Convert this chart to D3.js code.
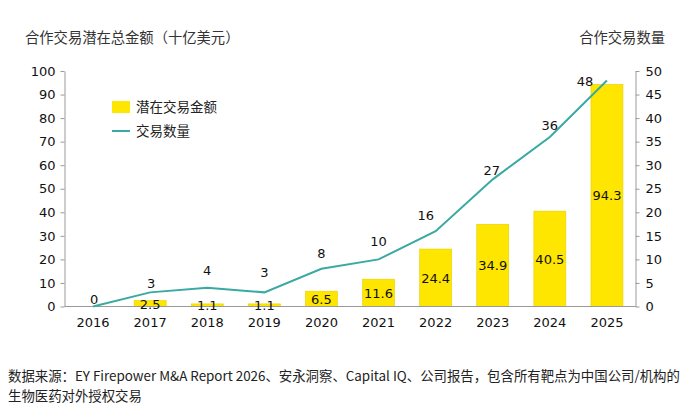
<!DOCTYPE html>
<html><head><meta charset="utf-8">
<script src="https://cdn.jsdelivr.net/npm/d3@7"></script>
<style>
html,body{margin:0;padding:0;background:#fff;}
svg{display:block;}
</style></head>
<body>
<svg id="chart" width="699" height="420"></svg>
<script>
const years = ["2016","2017","2018","2019","2020","2021","2022","2023","2024","2025"];
const dealValue = [0, 2.5, 1.1, 1.1, 6.5, 11.6, 24.4, 34.9, 40.5, 94.3];
const dealCount = [0, 3, 4, 3, 8, 10, 16, 27, 36, 48];
const leftTicks = [0,10,20,30,40,50,60,70,80,90,100];
const rightTicks = [0,5,10,15,20,25,30,35,40,45,50];
const leftTitle = "合作交易潜在总金额（十亿美元）";
const rightTitle = "合作交易数量";
const legendLabels = ["潜在交易金额", "交易数量"];
const footnote = ["数据来源：EY Firepower M&A Report 2026、安永洞察、Capital IQ、公司报告，包含所有靶点为中国公司/机构的", "生物医药对外授权交易"];

// label nudges (layout, px)
const countLabelLift = [8, 9, 18, 20, 16, 18, 16, 9, 12, -1];
const countLabelShift = [1, 1, 0, 0, 0, 0, -10, -1, 0, -22];

(function(){
const plotL = 64.5, plotR = 635.5, plotT = 71, plotB = 306.5;
const svg = d3.select("#chart");
const numFont = "'DejaVu Sans', Verdana, sans-serif";
const cjkFont = "'Noto Sans CJK SC', 'Noto Sans', sans-serif";

const x = d3.scaleBand().domain(years).range([plotL, plotR]).paddingInner(0.44).paddingOuter(0.22);
const yL = d3.scaleLinear().domain([0,100]).range([plotB, plotT]);
const yR = d3.scaleLinear().domain([0,50]).range([plotB, plotT]);
const yellow = "#FFE600", teal = "#3AA9A2", axisCol = "#9a9a9a";

// bars
svg.append("g").selectAll("rect").data(dealValue).join("rect")
  .attr("x", (d,i) => x(years[i]))
  .attr("width", x.bandwidth())
  .attr("y", d => yL(d))
  .attr("height", d => yL(0) - yL(d))
  .attr("fill", yellow)
  .attr("stroke", d => d > 0 ? "#e6cf00" : "none")
  .attr("stroke-width", 0.6);

// axes
const gL = svg.append("g").attr("transform", `translate(${plotL},0)`)
  .call(d3.axisLeft(yL).tickValues(leftTicks).tickSize(4).tickSizeOuter(0).tickPadding(5));
const gR = svg.append("g").attr("transform", `translate(${plotR},0)`)
  .call(d3.axisRight(yR).tickValues(rightTicks).tickSize(4).tickSizeOuter(0).tickPadding(6));
[gL, gR].forEach(g => {
  g.select(".domain").attr("stroke", axisCol);
  g.selectAll(".tick line").attr("stroke", axisCol);
  g.selectAll(".tick text").attr("font-family", numFont).attr("font-size", 13).attr("fill", "#111");
});
// baseline
svg.append("line").attr("x1", plotL).attr("x2", plotR).attr("y1", yL(0)).attr("y2", yL(0))
  .attr("stroke", axisCol).attr("stroke-width", 1);

// x labels
const gX = svg.append("g").attr("transform", `translate(0,${plotB})`)
  .call(d3.axisBottom(x).tickSize(0).tickPadding(11));
gX.select(".domain").remove();
gX.selectAll(".tick text").attr("font-family", numFont).attr("font-size", 13).attr("fill", "#111");

// bar value labels
svg.append("g").selectAll("text").data(years.map((y,i)=>({y, v: dealValue[i]})).filter(d => d.v > 0)).join("text")
  .attr("x", d => x(d.y) + x.bandwidth()/2)
  .attr("y", d => (yL(d.v) + yL(0))/2 + 5)
  .attr("text-anchor", "middle")
  .attr("font-family", numFont).attr("font-size", 13).attr("fill", "#111")
  .text(d => d.v.toFixed(1));

// line
const line = d3.line().x((d,i) => x(years[i]) + x.bandwidth()/2).y(d => yR(d));
svg.append("path").datum(dealCount).attr("d", line)
  .attr("fill", "none").attr("stroke", teal).attr("stroke-width", 2);

svg.append("g").selectAll("text").data(dealCount).join("text")
  .attr("x", (d,i) => x(years[i]) + x.bandwidth()/2 + countLabelShift[i])
  .attr("y", (d,i) => yR(d) - countLabelLift[i] + 5)
  .attr("text-anchor", "middle")
  .attr("font-family", numFont).attr("font-size", 13).attr("fill", "#111")
  .text(d => d);

// titles
svg.append("text").attr("x", 25).attr("y", 43).attr("font-family", cjkFont).attr("font-size", 14.3)
  .attr("fill", "#333").text(leftTitle);
svg.append("text").attr("x", 665).attr("y", 43).attr("text-anchor", "end").attr("font-family", cjkFont).attr("font-size", 14.3)
  .attr("fill", "#333").text(rightTitle);

// legend
svg.append("rect").attr("x", 112).attr("y", 101).attr("width", 18).attr("height", 12).attr("fill", yellow);
svg.append("line").attr("x1", 112).attr("x2", 130).attr("y1", 131).attr("y2", 131).attr("stroke", teal).attr("stroke-width", 2);
svg.append("text").attr("x", 136).attr("y", 112).attr("font-family", cjkFont).attr("font-size", 13.5).attr("fill", "#222").text(legendLabels[0]);
svg.append("text").attr("x", 136).attr("y", 136).attr("font-family", cjkFont).attr("font-size", 13.5).attr("fill", "#222").text(legendLabels[1]);

// footnote
svg.append("g").selectAll("text").data(footnote).join("text")
  .attr("x", 8).attr("y", (d,i) => 381 + i*20)
  .attr("font-family", cjkFont).attr("font-size", 13.4).attr("fill", "#222")
  .text(d => d);
})();
</script>
</body></html>
